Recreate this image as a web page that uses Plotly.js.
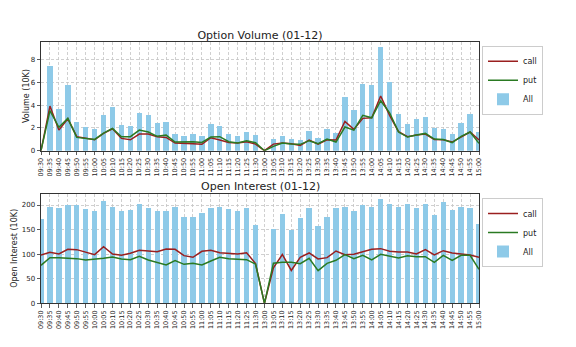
<!DOCTYPE html>
<html>
<head>
<meta charset="utf-8">
<script src="https://cdn.plot.ly/plotly-3.0.1.min.js"></script>
<style>html,body{margin:0;padding:0;background:#fff;}#chart{width:576px;height:347px;}</style>
</head>
<body>
<div id="chart"></div>
<script>
const times = ['09:30','09:35','09:40','09:45','09:50','09:55','10:00','10:05','10:10','10:15','10:20','10:25','10:30','10:35','10:40','10:45','10:50','10:55','11:00','11:05','11:10','11:15','11:20','11:25','11:30',
               '13:00','13:05','13:10','13:15','13:20','13:25','13:30','13:35','13:40','13:45','13:50','13:55','14:00','14:05','14:10','14:15','14:20','14:25','14:30','14:35','14:40','14:45','14:50','14:55','15:00'];

const volAll  = [0, 7.43, 3.65, 5.73, 2.49, 2.10, 1.90, 3.13, 3.80, 2.22, 2.16, 3.33, 3.13, 2.43, 2.54, 1.49, 1.32, 1.43, 1.26, 2.31, 2.13, 1.43, 1.26, 1.64, 1.35,
                 0, 1.05, 1.32, 1.02, 0.94, 1.73, 1.11, 1.90, 1.55, 4.68, 3.60, 5.88, 5.76, 9.07, 6.02, 3.19, 2.34, 2.78, 2.98, 1.99, 1.87, 1.46, 2.40, 3.25, 1.61];
const volCall = [0, 3.92, 1.81, 2.81, 1.23, 1.08, 0.96, 1.52, 1.93, 1.08, 0.96, 1.46, 1.46, 1.23, 1.17, 0.67, 0.61, 0.61, 0.56, 1.14, 0.94, 0.73, 0.67, 0.79, 0.58,
                 0, 0.58, 0.67, 0.61, 0.47, 0.94, 0.58, 0.96, 0.94, 2.57, 1.87, 2.84, 2.89, 4.80, 3.10, 1.67, 1.23, 1.37, 1.46, 0.99, 0.96, 0.76, 1.23, 1.64, 0.94];
const volPut  = [0, 3.51, 2.05, 2.84, 1.17, 1.05, 0.99, 1.55, 1.96, 1.23, 1.23, 1.81, 1.64, 1.26, 1.37, 0.76, 0.79, 0.79, 0.73, 1.20, 1.23, 0.79, 0.67, 0.88, 0.70,
                 0, 0.38, 0.67, 0.58, 0.56, 0.88, 0.61, 1.02, 0.76, 2.08, 1.81, 3.10, 2.89, 4.39, 3.33, 1.64, 1.20, 1.37, 1.52, 1.02, 0.99, 0.70, 1.26, 1.64, 0.64];

const oiAll  = [171.5, 196, 194, 201, 200, 192, 188.5, 208, 196, 187, 190, 203, 194.5, 187, 188.5, 196.6, 176, 175, 184, 194, 196.6, 192.5, 188.5, 194, 159,
                0, 151, 182, 150, 173.6, 194.6, 156.6, 175, 194.6, 196.6, 188, 201, 196.6, 211.5, 203, 196, 203, 194.6, 203, 180, 205.4, 189, 196.6, 194.6, 161];
const oiCall = [98, 103.7, 100.3, 109.8, 109.2, 104.4, 99, 115.3, 100.3, 97.6, 101.7, 107.8, 107.1, 105.1, 110.5, 109.8, 97, 93.6, 105.8, 107.8, 103, 101.7, 100.3, 103, 80.7,
                0, 72, 99.3, 66.8, 93.6, 102.4, 90.2, 92.9, 106.4, 99, 99.7, 105.1, 109.8, 111.2, 105.8, 104.4, 104.4, 100.3, 109.2, 98.4, 107.1, 102.4, 99.7, 98.3, 93.6];
const oiPut  = [77.3, 92.9, 92.9, 92.2, 90.9, 88.1, 89.5, 91.5, 94.2, 90.2, 88.8, 95.6, 88.1, 82.7, 78, 86.8, 79.3, 81.4, 78, 86.1, 93.6, 90.9, 89.5, 88.8, 80,
                0, 81.4, 83.4, 83.4, 80.7, 91.5, 66.4, 81.4, 87.5, 99, 90.9, 97.6, 88.1, 99.7, 96.3, 92.2, 96.9, 94.9, 94.9, 83.4, 97.6, 87.5, 97.6, 97.6, 69.2];

const callColor = '#9a1f1f';
const putColor = '#2a7a22';
const barColor = 'rgb(142,202,232)';
const textColor = '#222';

function lineTrace(name, y, xa, ya, color, legend) {
  return {type: 'scatter', mode: 'lines', name: name, x: times, y: y, xaxis: xa, yaxis: ya,
          legend: legend, line: {color: color, width: 1.5}, hoverinfo: 'skip'};
}
function barTrace(y, xa, ya, legend) {
  return {type: 'bar', name: 'All', x: times, y: y, xaxis: xa, yaxis: ya, legend: legend,
          width: 0.6, marker: {color: barColor, line: {width: 0}}, hoverinfo: 'skip'};
}

const data = [
  lineTrace('call', volCall, 'x', 'y', callColor, 'legend'),
  lineTrace('put', volPut, 'x', 'y', putColor, 'legend'),
  barTrace(volAll, 'x', 'y', 'legend'),
  lineTrace('call', oiCall, 'x2', 'y2', callColor, 'legend2'),
  lineTrace('put', oiPut, 'x2', 'y2', putColor, 'legend2'),
  barTrace(oiAll, 'x2', 'y2', 'legend2')
];

const W = 576, H = 347;
const xDom = [41/W, 479/W];

function xAxis(anchor) {
  return {
    domain: xDom, anchor: anchor, type: 'category', range: [0, times.length - 1],
    tickmode: 'array', tickvals: times, ticktext: times, tickangle: -90,
    tickfont: {size: 6.5, color: textColor},
    showgrid: true, gridcolor: '#c4c4c4', gridwidth: 0.8, griddash: '3px,2px',
    showline: true, mirror: true, linecolor: '#333', linewidth: 1,
    ticks: 'outside', ticklen: 3.5, tickwidth: 0.8, tickcolor: '#333',
    zeroline: false, fixedrange: true
  };
}
function yAxis(anchor, dom, rng, tv) {
  return {
    domain: dom, anchor: anchor, range: rng, tickmode: 'array', tickvals: tv,
    tickfont: {size: 7, color: textColor},
    showgrid: true, gridcolor: '#c4c4c4', gridwidth: 0.8, griddash: '3px,2px',
    showline: true, mirror: true, linecolor: '#333', linewidth: 1,
    ticks: 'outside', ticklen: 3.5, tickwidth: 0.8, tickcolor: '#333',
    zeroline: false, fixedrange: true
  };
}

const legendBase = {
  xanchor: 'left', yanchor: 'top', x: 482/W,
  bgcolor: 'rgba(255,255,255,0.8)', bordercolor: '#cccccc', borderwidth: 1,
  font: {size: 8, color: textColor}, tracegroupgap: 0, itemwidth: 30
};

const layout = {
  width: W, height: H,
  margin: {l: 0, r: 0, t: 0, b: 0},
  paper_bgcolor: '#fff', plot_bgcolor: '#fff',
  font: {family: 'DejaVu Sans', color: textColor},
  showlegend: true,
  bargap: 0,
  title: {text: 'Option Volume (01-12)', x: 260/W, xanchor: 'center', y: 1 - 35/H, yanchor: 'middle',
          font: {size: 11, color: textColor}},
  xaxis: xAxis('y'),
  yaxis: yAxis('x', [1 - 150.7/H, 1 - 42.3/H], [0, 9.52], [0, 2, 4, 6, 8]),
  xaxis2: xAxis('y2'),
  yaxis2: yAxis('x2', [1 - 303.3/H, 1 - 194.3/H], [0, 221.8], [0, 50, 100, 150, 200]),
  legend: Object.assign({}, legendBase, {y: 1 - 45.7/H}),
  legend2: Object.assign({}, legendBase, {y: 1 - 198/H}),
  annotations: [
    {text: 'Open Interest (01-12)', xref: 'paper', yref: 'paper', x: 260/W, y: 1 - 186.5/H,
     xanchor: 'center', yanchor: 'middle', showarrow: false, font: {size: 11, color: textColor}},
    {text: 'Volume (10K)', xref: 'paper', yref: 'paper', x: 26.5/W, y: 1 - 96.5/H, textangle: -90,
     xanchor: 'center', yanchor: 'middle', showarrow: false, font: {size: 8, color: textColor}},
    {text: 'Open Interest (10K)', xref: 'paper', yref: 'paper', x: 15/W, y: 1 - 248.8/H, textangle: -90,
     xanchor: 'center', yanchor: 'middle', showarrow: false, font: {size: 8, color: textColor}}
  ]
};

Plotly.newPlot('chart', data, layout, {displayModeBar: false, staticPlot: true});
</script>
</body>
</html>
